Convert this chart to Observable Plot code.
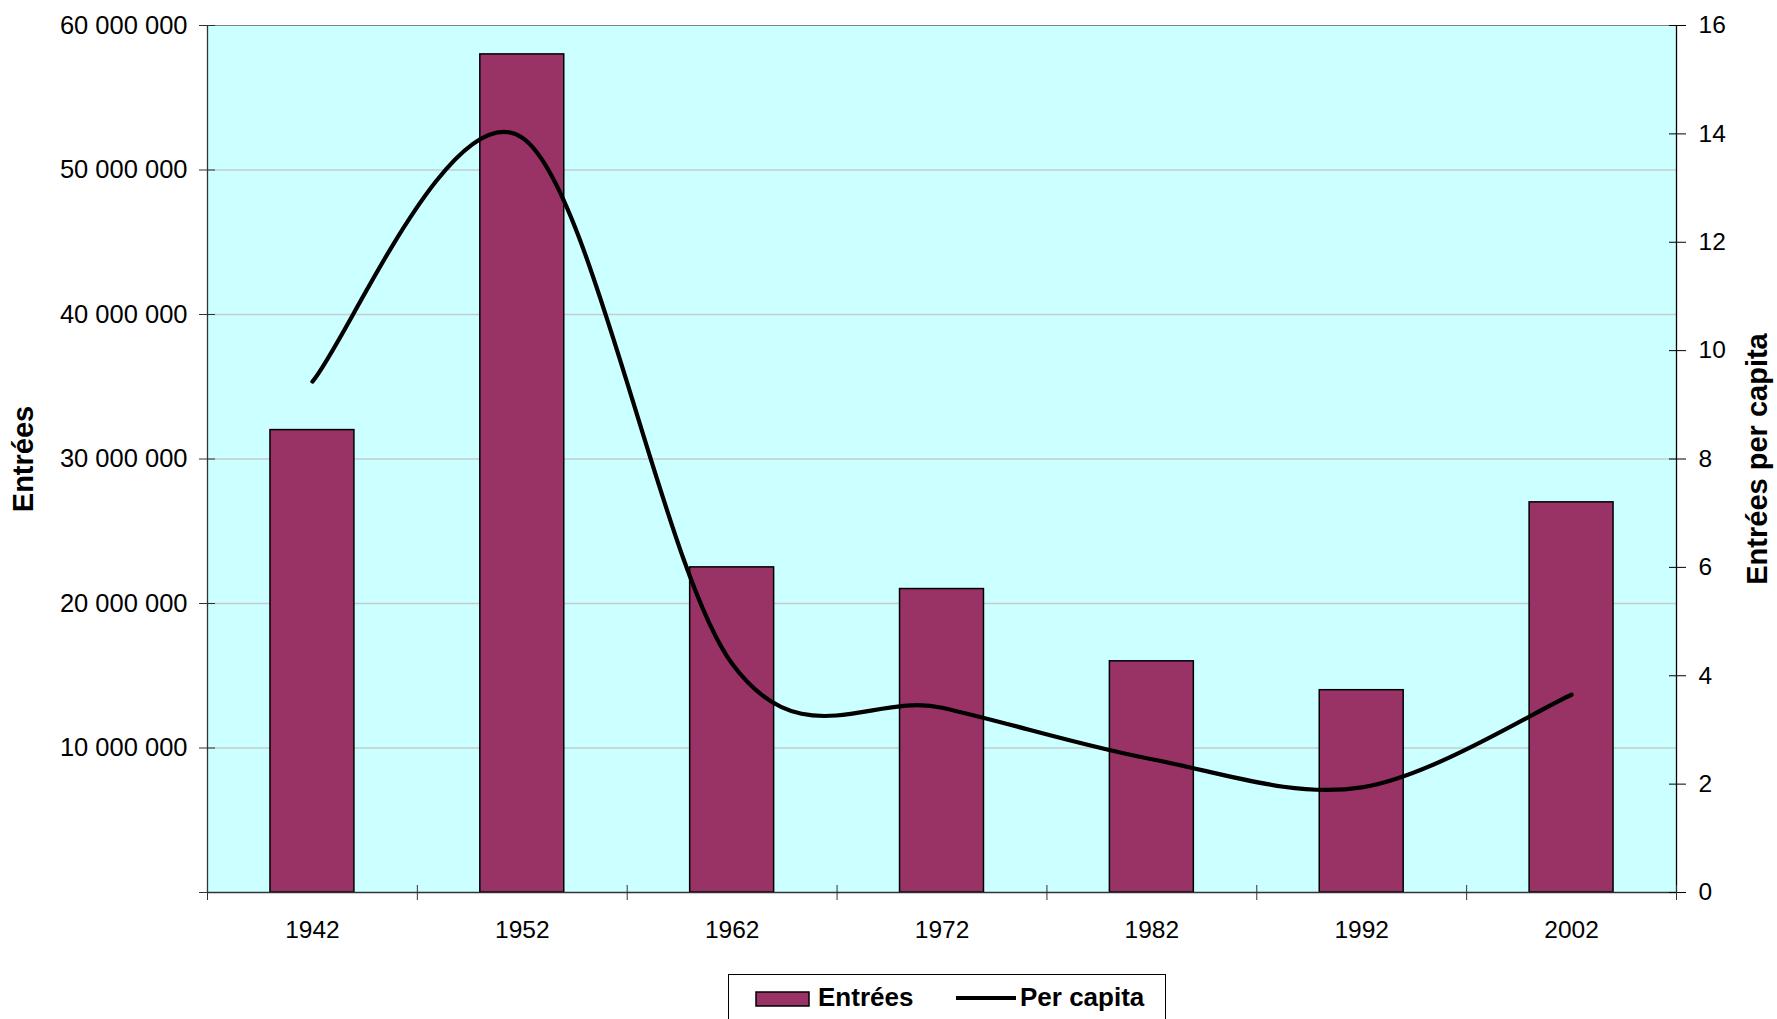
<!DOCTYPE html>
<html>
<head>
<meta charset="utf-8">
<script src="https://cdn.jsdelivr.net/npm/d3@7"></script>
<script src="https://cdn.jsdelivr.net/npm/@observablehq/plot@0.6"></script>
<style>
  html, body { margin: 0; padding: 0; background: #fff; }
  #chart { position: relative; width: 1777px; height: 1019px; overflow: hidden;
           font-family: "Liberation Sans", Arial, sans-serif; }
  #chart > svg.plot { position: absolute; left: 0; top: 0; }
  #legend { position: absolute; left: 728px; top: 974px; width: 438px; height: 60px;
            border: 1px solid #000; box-sizing: border-box; background: #fff; }
  #legend svg { position: absolute; left: 0; top: 0; }
</style>
</head>
<body>
<div id="chart"></div>
<script>
// Cinema admissions by decade, with admissions per inhabitant
const years = [1942, 1952, 1962, 1972, 1982, 1992, 2002];
const entrees = [32e6, 58e6, 22.5e6, 21e6, 16e6, 14e6, 27e6];
const perCapita = [9.43, 13.93, 4.22, 3.41, 2.46, 1.94, 3.65];
const entreesTicks = [0, 10e6, 20e6, 30e6, 40e6, 50e6, 60e6];
const perCapitaTicks = [0, 2, 4, 6, 8, 10, 12, 14, 16];

const barColor = "#993366";
const font = "'Liberation Sans', Arial, sans-serif";

// Right axis is drawn on the left scale: 16 per capita == 60 000 000 entrées
const k = d3.max(entreesTicks) / d3.max(perCapitaTicks);

const rows = years.map((year, i) => ({year, entrees: entrees[i], perCapita: perCapita[i]}));

// Category boundaries (one decade per category) for the x-axis tick marks
const step = years[1] - years[0];
const boundaries = years.map(y => y - step / 2).concat(years[years.length - 1] + step / 2);

// Space as thousands separator: 60 000 000
const fmt = d3.formatLocale({decimal: ",", thousands: " ", grouping: [3], currency: ["", " €"]}).format(",d");

// Spreadsheet-style smoothed line: cubic Bézier with control points at 1/6 of the neighbour chord
function smoothLine(context) {
  let pts = [];
  return {
    areaStart() {}, areaEnd() {},
    lineStart() { pts = []; },
    point(x, y) { pts.push([+x, +y]); },
    lineEnd() {
      const n = pts.length;
      if (!n) return;
      context.moveTo(pts[0][0], pts[0][1]);
      for (let i = 0; i < n - 1; i++) {
        const p0 = pts[Math.max(i - 1, 0)], p1 = pts[i], p2 = pts[i + 1], p3 = pts[Math.min(i + 2, n - 1)];
        context.bezierCurveTo(
          p1[0] + (p2[0] - p0[0]) / 6, p1[1] + (p2[1] - p0[1]) / 6,
          p2[0] - (p3[0] - p1[0]) / 6, p2[1] - (p3[1] - p1[1]) / 6,
          p2[0], p2[1]);
      }
    }
  };
}

const plot = Plot.plot({
  width: 1777,
  height: 960,
  marginLeft: 207,
  marginRight: 101,
  marginTop: 25,
  marginBottom: 68,
  style: {fontFamily: font, fontSize: "24.5px", color: "#000", background: "transparent"},
  x: {type: "linear", domain: [boundaries[0], boundaries[boundaries.length - 1]]},
  y: {domain: [0, d3.max(entreesTicks)]},
  marks: [
    Plot.frame({fill: "#ccffff", stroke: "#808080"}),
    Plot.ruleY(entreesTicks.filter(v => v > 0 && v < d3.max(entreesTicks)), {stroke: "#c4cccc", strokeWidth: 1.3}),
    Plot.rect(rows, {
      x1: d => d.year - 2, x2: d => d.year + 2, y1: 0, y2: "entrees",
      fill: barColor, stroke: "#000", strokeWidth: 1.5
    }),
    Plot.ruleX([boundaries[0]], {stroke: "#333", strokeWidth: 1.3}),
    Plot.ruleX([boundaries[boundaries.length - 1]], {stroke: "#000", strokeWidth: 1.3}),
    Plot.ruleY([0], {stroke: "#333", strokeWidth: 1.3}),
    Plot.line(rows, {
      x: "year", y: d => d.perCapita * k,
      stroke: "#000", strokeWidth: 4.2, strokeLinecap: "round", strokeLinejoin: "round",
      curve: smoothLine
    }),
    // Left axis: ticks crossing the axis line, no label at zero
    Plot.axisY({
      anchor: "left", ticks: entreesTicks, tickFormat: d => d ? fmt(d) : "",
      tickSize: 16, dx: 8, tickPadding: 12, stroke: "#333", fontSize: 25.5, label: null
    }),
    // Right axis: entrées per capita
    Plot.axisY({
      anchor: "right", ticks: perCapitaTicks.map(v => v * k), tickFormat: d => String(Math.round(d / k)),
      tickSize: 17, dx: -8, tickPadding: 13, stroke: "#000", label: null
    }),
    // Category boundary ticks on the x axis
    Plot.axisX({anchor: "bottom", ticks: boundaries, tickSize: 15, dy: -7, fill: "none", stroke: "#333", label: null}),
    // Category labels
    Plot.axisX({anchor: "bottom", ticks: years, tickSize: 0, tickPadding: 28, tickFormat: "d", label: null}),
    // Axis titles
    Plot.text(["Entrées"], {
      text: d => d, frameAnchor: "left", dx: -184, rotate: -90, textAnchor: "middle",
      fontSize: 29, fontWeight: "bold", fill: "#000"
    }),
    Plot.text(["Entrées per capita"], {
      text: d => d, frameAnchor: "right", dx: 81, rotate: -90, textAnchor: "middle",
      fontSize: 29, fontWeight: "bold", fill: "#000"
    })
  ]
});

const chart = document.getElementById("chart");
chart.appendChild(plot);

// Legend below the chart
const legend = document.createElement("div");
legend.id = "legend";
legend.innerHTML = `
<svg width="438" height="46" xmlns="http://www.w3.org/2000/svg" style="font-family:${font};font-weight:bold;font-size:26px">
  <rect x="27" y="17" width="53" height="14" fill="${barColor}" stroke="#000" stroke-width="1.5"></rect>
  <text x="89" y="31">Entrées</text>
  <line x1="227" x2="287" y1="23" y2="23" stroke="#000" stroke-width="4.2"></line>
  <text x="291" y="31">Per capita</text>
</svg>`;
chart.appendChild(legend);
</script>
</body>
</html>
